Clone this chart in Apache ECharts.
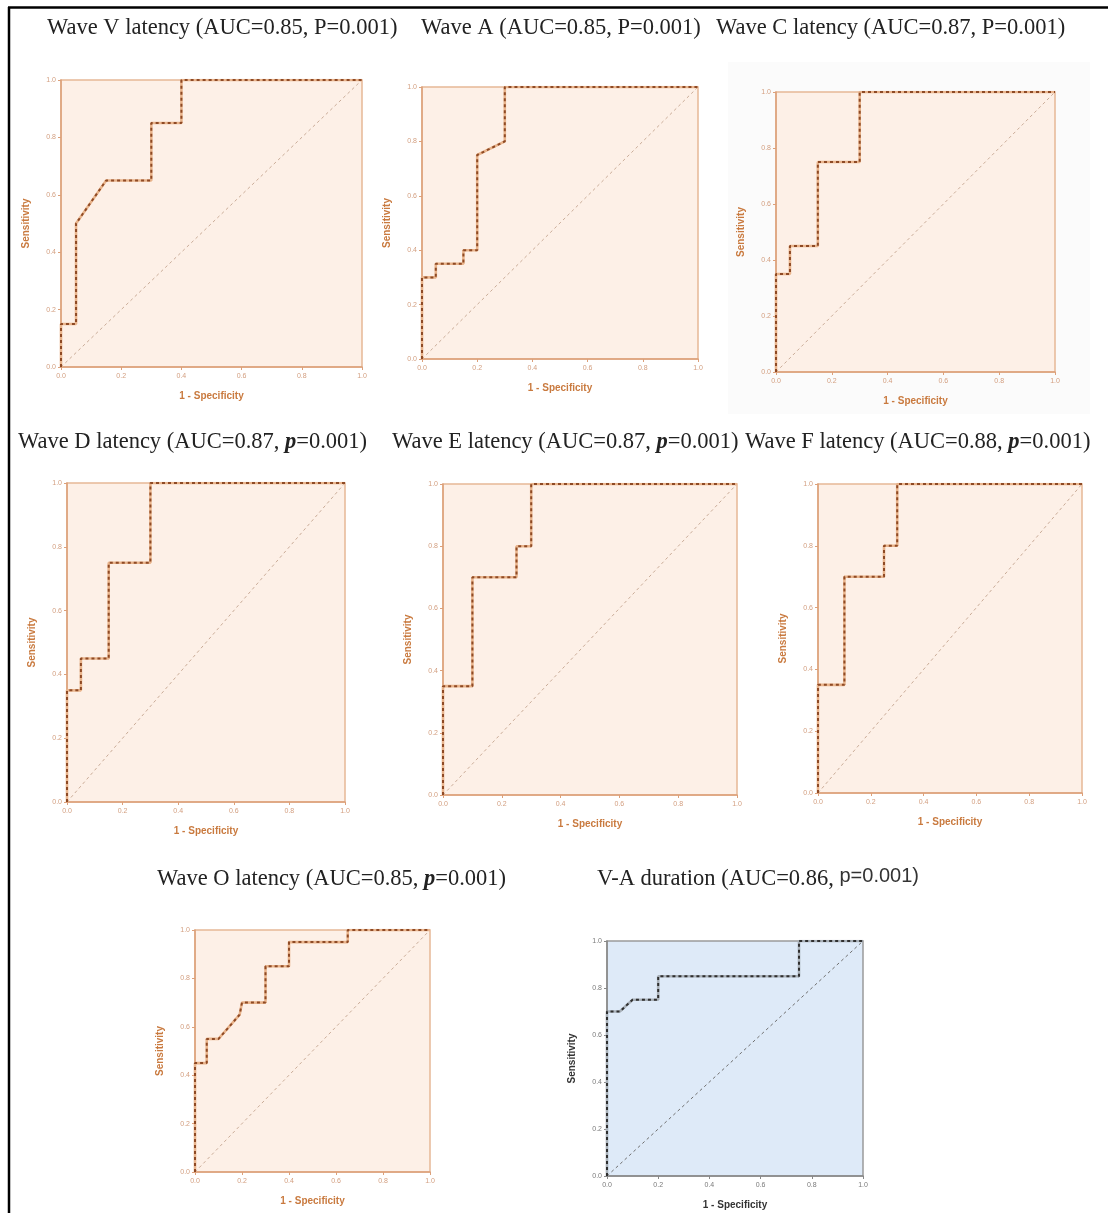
<!DOCTYPE html>
<html>
<head>
<meta charset="utf-8">
<script src="https://cdn.jsdelivr.net/npm/echarts@6/dist/echarts.min.js"></script>
<style>
html,body{margin:0;padding:0;background:#fff;}
#chart{width:1108px;height:1213px;}
</style>
</head>
<body>
<div id="chart"></div>
<script>
// ---- Data (1 - Specificity, Sensitivity) ----
const tickLabels = ['0.0', '0.2', '0.4', '0.6', '0.8', '1.0'];
const refFpr = [0, 1];
const refTpr = [0, 1];

const waveV_fpr = [0, 0, 0.05, 0.05, 0.15, 0.30, 0.30, 0.40, 0.40, 1.0];
const waveV_tpr = [0, 0.15, 0.15, 0.50, 0.65, 0.65, 0.85, 0.85, 1.0, 1.0];

const waveA_fpr = [0, 0, 0.05, 0.05, 0.15, 0.15, 0.20, 0.20, 0.30, 0.30, 1.0];
const waveA_tpr = [0, 0.30, 0.30, 0.35, 0.35, 0.40, 0.40, 0.75, 0.80, 1.0, 1.0];

const waveC_fpr = [0, 0, 0.05, 0.05, 0.15, 0.15, 0.30, 0.30, 1.0];
const waveC_tpr = [0, 0.35, 0.35, 0.45, 0.45, 0.75, 0.75, 1.0, 1.0];

const waveD_fpr = [0, 0, 0.05, 0.05, 0.15, 0.15, 0.30, 0.30, 1.0];
const waveD_tpr = [0, 0.35, 0.35, 0.45, 0.45, 0.75, 0.75, 1.0, 1.0];

const waveE_fpr = [0, 0, 0.10, 0.10, 0.25, 0.25, 0.30, 0.30, 1.0];
const waveE_tpr = [0, 0.35, 0.35, 0.70, 0.70, 0.80, 0.80, 1.0, 1.0];

const waveF_fpr = [0, 0, 0.10, 0.10, 0.25, 0.25, 0.30, 0.30, 1.0];
const waveF_tpr = [0, 0.35, 0.35, 0.70, 0.70, 0.80, 0.80, 1.0, 1.0];

const waveO_fpr = [0, 0, 0.05, 0.05, 0.10, 0.19, 0.20, 0.30, 0.30, 0.40, 0.40, 0.65, 0.65, 1.0];
const waveO_tpr = [0, 0.45, 0.45, 0.55, 0.55, 0.65, 0.70, 0.70, 0.85, 0.85, 0.95, 0.95, 1.0, 1.0];

const vaDur_fpr = [0, 0, 0.05, 0.10, 0.20, 0.20, 0.75, 0.75, 1.0];
const vaDur_tpr = [0, 0.70, 0.70, 0.75, 0.75, 0.85, 0.85, 1.0, 1.0];

const titles = [
  '{n|Wave V latency (AUC=0.85, P=0.001)}',
  '{n|Wave A (AUC=0.85, P=0.001)}',
  '{n|Wave C latency (AUC=0.87, P=0.001)}',
  '{n|Wave D latency (AUC=0.87, }{p|p}{n|=0.001)}',
  '{n|Wave E latency (AUC=0.87, }{p|p}{n|=0.001)}',
  '{n|Wave F latency (AUC=0.88, }{p|p}{n|=0.001)}',
  '{n|Wave O latency (AUC=0.85, }{p|p}{n|=0.001)}',
  '{n|V-A duration (AUC=0.86, }{s|p=0.001)}'
];

// ---- Layout ----
const titlePos = [[47, 17], [421, 17], [716, 17], [18, 431], [392, 431], [745, 431], [157, 868], [597, 866]];
const grids = [
  {left: 61, top: 80, width: 301, height: 287},
  {left: 422, top: 87, width: 276, height: 272},
  {left: 776, top: 92, width: 279, height: 280},
  {left: 67, top: 483, width: 278, height: 319},
  {left: 443, top: 484, width: 294, height: 311},
  {left: 818, top: 484, width: 264, height: 309},
  {left: 195, top: 930, width: 235, height: 242},
  {left: 607, top: 941, width: 256, height: 235}
];
const curves = [
  [waveV_fpr, waveV_tpr], [waveA_fpr, waveA_tpr], [waveC_fpr, waveC_tpr],
  [waveD_fpr, waveD_tpr], [waveE_fpr, waveE_tpr], [waveF_fpr, waveF_tpr],
  [waveO_fpr, waveO_tpr], [vaDur_fpr, vaDur_tpr]
];

const orange = {
  bg: '#fdf0e7', border: '#e6b896', axis: '#dca07a', tick: '#d39f80',
  name: '#c97a3f', under: '#e9b48c', dash: '#8e4a25', ref: '#c9ab97'
};
const blue = {
  bg: '#deeaf8', border: '#9a9a9a', axis: '#888888', tick: '#7a7a7a',
  name: '#333333', under: '#a8b0b8', dash: '#2f2f2f', ref: '#6f6f6f'
};

function pairs(xs, ys) { return xs.map((x, i) => [x, ys[i]]); }

const option = {
  animation: false,
  backgroundColor: '#ffffff',
  title: titles.map((t, i) => ({
    text: t, left: titlePos[i][0], top: titlePos[i][1], padding: 0,
    textStyle: {
      rich: {
        n: {fontFamily: 'Liberation Serif', fontSize: 22.5, color: '#222', fontWeight: 'normal'},
        p: {fontFamily: 'Liberation Serif', fontSize: 22.5, color: '#222', fontWeight: 'bold', fontStyle: 'italic'},
        s: {fontFamily: 'Liberation Sans', fontSize: 20, color: '#333', fontWeight: 'normal', padding: [0, 0, 6, 0]}
      }
    }
  })),
  graphic: [
    {type: 'rect', shape: {x: 728, y: 62, width: 362, height: 352}, style: {fill: '#fbfbfb'}, z: -10, silent: true},
    {type: 'line', shape: {x1: 8, y1: 7.5, x2: 1108, y2: 7.5}, style: {stroke: '#000', lineWidth: 2.5}},
    {type: 'line', shape: {x1: 9, y1: 7, x2: 9, y2: 1213}, style: {stroke: '#000', lineWidth: 2.5}}
  ],
  grid: grids.map((g, i) => {
    const c = i === 7 ? blue : orange;
    return Object.assign({show: true, backgroundColor: c.bg, borderColor: c.border, borderWidth: 1.5, containLabel: false}, g);
  }),
  xAxis: grids.map((g, i) => {
    const c = i === 7 ? blue : orange;
    return {
      type: 'value', gridIndex: i, min: 0, max: 1, interval: 0.2,
      name: '1 - Specificity', nameLocation: 'middle', nameGap: 24,
      nameTextStyle: {fontFamily: 'Liberation Sans', fontSize: 10, fontWeight: 'bold', color: c.name},
      axisLine: {show: true, lineStyle: {color: c.axis, width: 1.5}},
      axisTick: {show: true, length: 3, lineStyle: {color: c.axis}},
      axisLabel: {fontFamily: 'Liberation Sans', fontSize: 7, color: c.tick, margin: 6,
        formatter: v => tickLabels[Math.round(v * 5)]},
      splitLine: {show: false}
    };
  }),
  yAxis: grids.map((g, i) => {
    const c = i === 7 ? blue : orange;
    return {
      type: 'value', gridIndex: i, min: 0, max: 1, interval: 0.2,
      name: 'Sensitivity', nameLocation: 'middle', nameGap: 30, nameRotate: 90,
      nameTextStyle: {fontFamily: 'Liberation Sans', fontSize: 10, fontWeight: 'bold', color: c.name},
      axisLine: {show: true, lineStyle: {color: c.axis, width: 1.5}},
      axisTick: {show: true, length: 3, lineStyle: {color: c.axis}},
      axisLabel: {fontFamily: 'Liberation Sans', fontSize: 7, color: c.tick, margin: 5,
        formatter: v => tickLabels[Math.round(v * 5)]},
      splitLine: {show: false}
    };
  }),
  series: []
};

curves.forEach((cv, i) => {
  const c = i === 7 ? blue : orange;
  option.series.push({
    type: 'line', xAxisIndex: i, yAxisIndex: i, data: pairs(refFpr, refTpr),
    showSymbol: false, silent: true,
    lineStyle: {color: c.ref, width: 1, type: [3, 3]}
  });
  option.series.push({
    type: 'line', xAxisIndex: i, yAxisIndex: i, data: pairs(cv[0], cv[1]),
    showSymbol: false, silent: true,
    lineStyle: {color: c.under, width: 2.6, type: 'solid'}
  });
  option.series.push({
    type: 'line', xAxisIndex: i, yAxisIndex: i, data: pairs(cv[0], cv[1]),
    showSymbol: false, silent: true,
    lineStyle: {color: c.dash, width: 2, type: [3, 3]}
  });
});

const chart = echarts.init(document.getElementById('chart'), null, {renderer: 'canvas'});
chart.setOption(option);
</script>
</body>
</html>
